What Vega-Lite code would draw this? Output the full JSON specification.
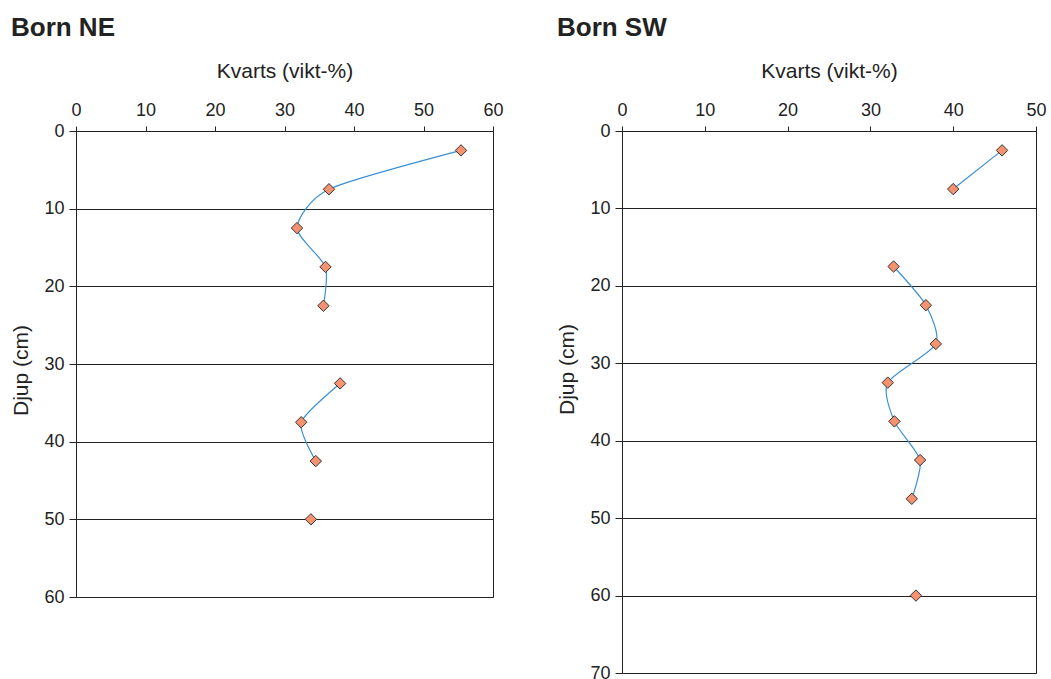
{
  "$schema": "https://vega.github.io/schema/vega-lite/v6.json",
  "padding": {"left": 10, "top": 14, "right": 10, "bottom": 3},
  "background": "white",
  "config": {
    "font": "Liberation Sans",
    "view": {"stroke": "#222222", "strokeWidth": 1},
    "axis": {
      "labelFont": "Liberation Sans",
      "labelFontSize": 18,
      "labelColor": "#222222",
      "titleFont": "Liberation Sans",
      "titleFontSize": 21,
      "titleFontWeight": "normal",
      "titleColor": "#222222",
      "domainColor": "#222222",
      "tickColor": "#222222",
      "gridColor": "#222222",
      "gridOpacity": 1,
      "gridWidth": 1,
      "labelFlush": false
    },
    "title": {"font": "Liberation Sans", "fontSize": 26, "fontWeight": "bold", "anchor": "start", "color": "#222222"},
    "concat": {"spacing": 52}
  },
  "datasets": {
    "ne": [
      {"depth": 2.5, "kvarts": 55.4, "seg": "a"},
      {"depth": 7.5, "kvarts": 36.4, "seg": "a"},
      {"depth": 12.5, "kvarts": 31.8, "seg": "a"},
      {"depth": 17.5, "kvarts": 35.9, "seg": "a"},
      {"depth": 22.5, "kvarts": 35.6, "seg": "a"},
      {"depth": 32.5, "kvarts": 38.0, "seg": "b"},
      {"depth": 37.5, "kvarts": 32.4, "seg": "b"},
      {"depth": 42.5, "kvarts": 34.5, "seg": "b"},
      {"depth": 50, "kvarts": 33.8, "seg": "c"}
    ],
    "sw": [
      {"depth": 2.5, "kvarts": 45.9, "seg": "a"},
      {"depth": 7.5, "kvarts": 40.0, "seg": "a"},
      {"depth": 17.5, "kvarts": 32.8, "seg": "b"},
      {"depth": 22.5, "kvarts": 36.7, "seg": "b"},
      {"depth": 27.5, "kvarts": 37.9, "seg": "b"},
      {"depth": 32.5, "kvarts": 32.1, "seg": "b"},
      {"depth": 37.5, "kvarts": 32.9, "seg": "b"},
      {"depth": 42.5, "kvarts": 36.0, "seg": "b"},
      {"depth": 47.5, "kvarts": 35.0, "seg": "b"},
      {"depth": 60, "kvarts": 35.5, "seg": "c"}
    ]
  },
  "hconcat": [
    {
      "title": {"text": "Born NE", "offset": 19},
      "width": 417,
      "height": 466,
      "data": {"name": "ne"},
      "encoding": {
        "x": {"field": "kvarts", "type": "quantitative", "scale": {"domain": [0, 60], "nice": false},
          "axis": {"orient": "top", "title": "Kvarts (vikt-%)", "values": [0, 10, 20, 30, 40, 50, 60], "grid": false, "tickSize": 5, "labelPadding": 7, "titlePadding": 20}},
        "y": {"field": "depth", "type": "quantitative", "scale": {"domain": [0, 60], "reverse": true, "nice": false},
          "axis": {"title": "Djup (cm)", "values": [0, 10, 20, 30, 40, 50, 60], "grid": true, "tickSize": 7, "labelPadding": 5, "titlePadding": 12, "titleY": 239}}
      },
      "layer": [
        {
          "mark": {"type": "line", "interpolate": "cardinal", "tension": 0.3, "color": "#3b8ed6", "strokeWidth": 1.2, "orient": "vertical"},
          "encoding": {"detail": {"field": "seg"}, "order": {"field": "depth", "type": "quantitative"}}
        },
        {
          "mark": {"type": "point", "shape": "diamond", "filled": true, "fill": "#f5926f", "stroke": "#333333", "strokeWidth": 1, "size": 130, "opacity": 1}
        }
      ]
    },
    {
      "title": {"text": "Born SW", "offset": 19},
      "width": 414,
      "height": 542,
      "data": {"name": "sw"},
      "encoding": {
        "x": {"field": "kvarts", "type": "quantitative", "scale": {"domain": [0, 50], "nice": false},
          "axis": {"orient": "top", "title": "Kvarts (vikt-%)", "values": [0, 10, 20, 30, 40, 50], "grid": false, "tickSize": 5, "labelPadding": 7, "titlePadding": 20}},
        "y": {"field": "depth", "type": "quantitative", "scale": {"domain": [0, 70], "reverse": true, "nice": false},
          "axis": {"title": "Djup (cm)", "values": [0, 10, 20, 30, 40, 50, 60, 70], "grid": true, "tickSize": 7, "labelPadding": 5, "titlePadding": 12, "titleY": 238}}
      },
      "layer": [
        {
          "mark": {"type": "line", "interpolate": "cardinal", "tension": 0.3, "color": "#3b8ed6", "strokeWidth": 1.2, "orient": "vertical"},
          "encoding": {"detail": {"field": "seg"}, "order": {"field": "depth", "type": "quantitative"}}
        },
        {
          "mark": {"type": "point", "shape": "diamond", "filled": true, "fill": "#f5926f", "stroke": "#333333", "strokeWidth": 1, "size": 130, "opacity": 1}
        }
      ]
    }
  ]
}
